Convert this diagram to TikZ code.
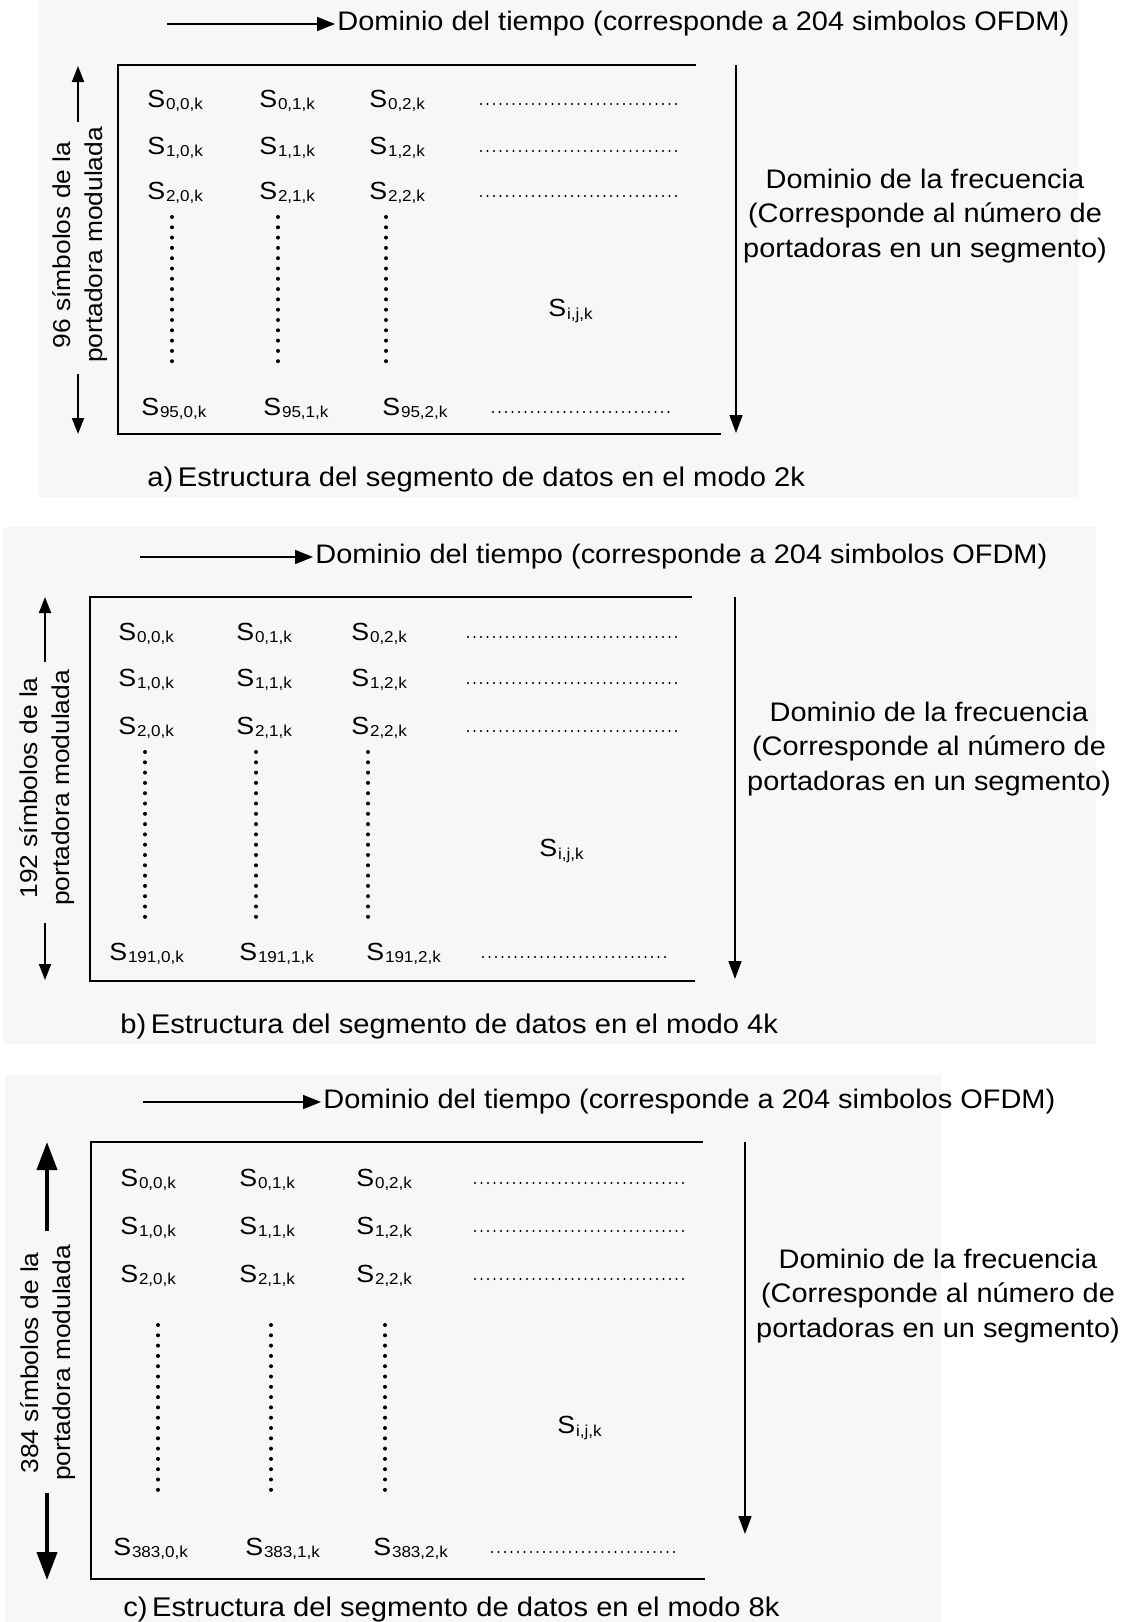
\documentclass[tikz,border=0pt]{standalone}
\usepackage{fontspec}
\setmainfont{Liberation Sans}[FakeStretch=1.08]
\usetikzlibrary{arrows.meta}
\newcommand{\Sym}[1]{S\kern0.03em\raisebox{-1.1pt}{\fontsize{7.9}{8}\selectfont #1}}
\tikzset{
  frameline/.style={line width=1pt},
  tarrow/.style={line width=0.8pt,-{Triangle[length=9pt,width=7pt]}},
  farrow/.style={line width=0.8pt,-{Triangle[length=9pt,width=6.5pt]}},
  larrow/.style={line width=0.9pt,-{Triangle[length=8pt,width=6pt]}},
  thickarrow/.style={line width=2pt,-{Triangle[length=14pt,width=10pt]}},
  hdots/.style={line width=1.2pt,dash pattern=on 0pt off 3.25pt,line cap=round},
  vdots/.style={line width=2pt,dash pattern=on 0pt off 5.15pt,line cap=round},
  entry/.style={anchor=west,inner sep=0pt,font=\fontsize{12.4}{14}\selectfont},
  timetxt/.style={anchor=west,inner sep=1pt,font=\fontsize{13.4}{15}\selectfont},
  freqtxt/.style={align=center,inner sep=0pt,font=\fontsize{13.4}{17.3}\selectfont},
  sidetxt/.style={rotate=90,align=center,inner sep=0pt,font=\fontsize{12.2}{16}\selectfont},
  captxt/.style={anchor=west,inner sep=0pt,font=\fontsize{13.5}{15}\selectfont},
  panelbg/.style={fill=black!3,draw=none}
}
\begin{document}
\begin{tikzpicture}[x=0.5pt,y=-0.5pt]
\useasboundingbox[fill=white] (0,0) rectangle (1124,1622);
% panel backgrounds
\fill[panelbg] (39,0) rectangle (1078,497);
\fill[panelbg] (3,527) rectangle (1096,1044);
\fill[panelbg] (5,1075) rectangle (941,1622);

% ================= panel a =================
\coordinate (a-t0) at (167,24);
\node[timetxt] (a-time) at (335,24) {Dominio del tiempo (corresponde a 204 simbolos OFDM)};
\draw[tarrow] (a-t0) -- (a-time.west);
\coordinate (a-tr) at (696,65);
\coordinate (a-tl) at (118,65);
\coordinate (a-bl) at (118,434);
\coordinate (a-br) at (721,434);
\draw[frameline] (a-tr) -- (a-tl) -- (a-bl) -- (a-br);
\coordinate (a-f0) at (736,65);
\coordinate (a-f1) at (736,433);
\draw[farrow] (a-f0) -- (a-f1);
\node[sidetxt] (a-side) at (80,245) {96 símbolos de la\\portadora modulada};
\coordinate (a-u0) at (78,122);
\coordinate (a-u1) at (78,66);
\coordinate (a-d0) at (78,374);
\coordinate (a-d1) at (78,434);
\draw[larrow] (a-u0) -- (a-u1);
\draw[larrow] (a-d0) -- (a-d1);
\node[entry] (a00) at (147,101) {\Sym{0,0,k}};
\node[entry] (a01) at (259,101) {\Sym{0,1,k}};
\node[entry] (a02) at (369,101) {\Sym{0,2,k}};
\node[entry] (a10) at (147,148) {\Sym{1,0,k}};
\node[entry] (a11) at (259,148) {\Sym{1,1,k}};
\node[entry] (a12) at (369,148) {\Sym{1,2,k}};
\node[entry] (a20) at (147,193) {\Sym{2,0,k}};
\node[entry] (a21) at (259,193) {\Sym{2,1,k}};
\node[entry] (a22) at (369,193) {\Sym{2,2,k}};
\node[entry] (a30) at (141,409) {\Sym{95,0,k}};
\node[entry] (a31) at (263,409) {\Sym{95,1,k}};
\node[entry] (a32) at (382,409) {\Sym{95,2,k}};
\node[entry] (aij) at (548,311) {\Sym{i,j,k}};
\draw[hdots] (481,104) -- (681,104);
\draw[hdots] (481,151) -- (681,151);
\draw[hdots] (481,196) -- (681,196);
\draw[hdots] (493,412) -- (670,412);
\draw[vdots] (172,217) -- (172,369);
\draw[vdots] (278,217) -- (278,369);
\draw[vdots] (386,217) -- (386,369);
\node[freqtxt] (a-freq) at (925,216) {Dominio de la frecuencia\\(Corresponde al número de\\portadoras en un segmento)};
\node[captxt] (a-cap) at (147,480) {a)\,Estructura del segmento de datos en el modo 2k};

% ================= panel b =================
\coordinate (b-t0) at (140,557);
\node[timetxt] (b-time) at (313,557) {Dominio del tiempo (corresponde a 204 simbolos OFDM)};
\draw[tarrow] (b-t0) -- (b-time.west);
\coordinate (b-tr) at (692,597);
\coordinate (b-tl) at (90,597);
\coordinate (b-bl) at (90,981);
\coordinate (b-br) at (695,981);
\draw[frameline] (b-tr) -- (b-tl) -- (b-bl) -- (b-br);
\coordinate (b-f0) at (735,597);
\coordinate (b-f1) at (735,979);
\draw[farrow] (b-f0) -- (b-f1);
\node[sidetxt] (b-side) at (47,788) {192 símbolos de la\\portadora modulada};
\coordinate (b-u0) at (45,662);
\coordinate (b-u1) at (45,597);
\coordinate (b-d0) at (45,923);
\coordinate (b-d1) at (45,980);
\draw[larrow] (b-u0) -- (b-u1);
\draw[larrow] (b-d0) -- (b-d1);
\node[entry] (b00) at (118,634) {\Sym{0,0,k}};
\node[entry] (b01) at (236,634) {\Sym{0,1,k}};
\node[entry] (b02) at (351,634) {\Sym{0,2,k}};
\node[entry] (b10) at (118,680) {\Sym{1,0,k}};
\node[entry] (b11) at (236,680) {\Sym{1,1,k}};
\node[entry] (b12) at (351,680) {\Sym{1,2,k}};
\node[entry] (b20) at (118,728) {\Sym{2,0,k}};
\node[entry] (b21) at (236,728) {\Sym{2,1,k}};
\node[entry] (b22) at (351,728) {\Sym{2,2,k}};
\node[entry] (b30) at (109,954) {\Sym{191,0,k}};
\node[entry] (b31) at (239,954) {\Sym{191,1,k}};
\node[entry] (b32) at (366,954) {\Sym{191,2,k}};
\node[entry] (bij) at (539,851) {\Sym{i,j,k}};
\draw[hdots] (468,637) -- (677,637);
\draw[hdots] (468,683) -- (677,683);
\draw[hdots] (468,731) -- (677,731);
\draw[hdots] (483,957) -- (670,957);
\draw[vdots] (145,752) -- (145,917);
\draw[vdots] (256,752) -- (256,917);
\draw[vdots] (368,752) -- (368,917);
\node[freqtxt] (b-freq) at (929,749) {Dominio de la frecuencia\\(Corresponde al número de\\portadoras en un segmento)};
\node[captxt] (b-cap) at (120,1027) {b)\,Estructura del segmento de datos en el modo 4k};

% ================= panel c =================
\coordinate (c-t0) at (143,1102);
\node[timetxt] (c-time) at (321,1102) {Dominio del tiempo (corresponde a 204 simbolos OFDM)};
\draw[tarrow] (c-t0) -- (c-time.west);
\coordinate (c-tr) at (703,1142);
\coordinate (c-tl) at (91,1142);
\coordinate (c-bl) at (91,1579);
\coordinate (c-br) at (705,1579);
\draw[frameline] (c-tr) -- (c-tl) -- (c-bl) -- (c-br);
\coordinate (c-f0) at (745,1142);
\coordinate (c-f1) at (745,1534);
\draw[farrow] (c-f0) -- (c-f1);
\node[sidetxt] (c-side) at (48,1363) {384 símbolos de la\\portadora modulada};
\coordinate (c-u0) at (47,1231);
\coordinate (c-u1) at (47,1142);
\coordinate (c-d0) at (47,1493);
\coordinate (c-d1) at (47,1580);
\draw[thickarrow] (c-u0) -- (c-u1);
\draw[thickarrow] (c-d0) -- (c-d1);
\node[entry] (c00) at (120,1180) {\Sym{0,0,k}};
\node[entry] (c01) at (239,1180) {\Sym{0,1,k}};
\node[entry] (c02) at (356,1180) {\Sym{0,2,k}};
\node[entry] (c10) at (120,1228) {\Sym{1,0,k}};
\node[entry] (c11) at (239,1228) {\Sym{1,1,k}};
\node[entry] (c12) at (356,1228) {\Sym{1,2,k}};
\node[entry] (c20) at (120,1276) {\Sym{2,0,k}};
\node[entry] (c21) at (239,1276) {\Sym{2,1,k}};
\node[entry] (c22) at (356,1276) {\Sym{2,2,k}};
\node[entry] (c30) at (113,1549) {\Sym{383,0,k}};
\node[entry] (c31) at (245,1549) {\Sym{383,1,k}};
\node[entry] (c32) at (373,1549) {\Sym{383,2,k}};
\node[entry] (cij) at (557,1428) {\Sym{i,j,k}};
\draw[hdots] (475,1183) -- (687,1183);
\draw[hdots] (475,1231) -- (687,1231);
\draw[hdots] (475,1279) -- (687,1279);
\draw[hdots] (492,1552) -- (680,1552);
\draw[vdots] (158,1325) -- (158,1491);
\draw[vdots] (271,1325) -- (271,1491);
\draw[vdots] (385,1325) -- (385,1491);
\node[freqtxt] (c-freq) at (938,1296) {Dominio de la frecuencia\\(Corresponde al número de\\portadoras en un segmento)};
\node[captxt] (c-cap) at (123,1609) {c)\,Estructura del segmento de datos en el modo 8k};
\end{tikzpicture}
\end{document}
